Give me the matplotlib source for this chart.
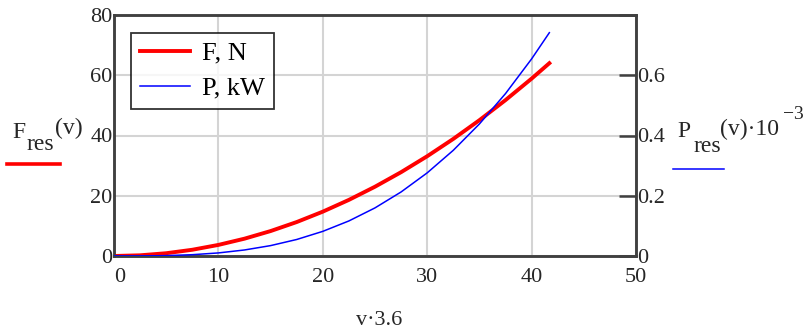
import matplotlib
matplotlib.use("Agg")
import matplotlib.pyplot as plt
from matplotlib.lines import Line2D

plt.rcParams['font.family'] = ['Liberation Serif', 'DejaVu Serif']

# data
speed_kmh = [0, 2.5, 5, 7.5, 10, 12.5, 15, 17.5, 20, 22.5, 25, 27.5, 30, 32.5, 35, 37.5, 40, 41.7]
force_N = [0, 0.23, 0.92, 2.07, 3.68, 5.75, 8.28, 11.27, 14.72, 18.63, 23.0, 27.83, 33.12,
           38.87, 45.08, 51.75, 58.88, 64.0]
power_kW = [0, 0.0002, 0.0013, 0.0043, 0.0102, 0.020, 0.0345, 0.0548, 0.0818, 0.1164, 0.1597,
            0.2126, 0.276, 0.3509, 0.4383, 0.5391, 0.6542, 0.7413]
x_ticks = [0, 10, 20, 30, 40, 50]
left_ticks = [0, 20, 40, 60, 80]
right_ticks = [0, 0.2, 0.4, 0.6]

W, H = 807, 333
fig = plt.figure(figsize=(W / 100, H / 100), dpi=100)
L, R, T, B = 114, 636, 15, 256
ax = fig.add_axes([L / W, (H - B) / H, (R - L) / W, (B - T) / H])
ax2 = ax.twinx()

spine_c = '#404040'
grid_c = '#d4d4d4'
txt_c = '#262626'
fs = 16

ax.set_xlim(0, 50)
ax.set_ylim(0, 80)
ax2.set_ylim(0, 0.8)
ax.set_xticks(x_ticks)
ax.set_yticks(left_ticks)
ax2.set_yticks(right_ticks + [0.8])
ax2.set_yticklabels(['0', '0.2', '0.4', '0.6', ''])
ax.set_xticklabels([str(t) for t in x_ticks])
ax.set_yticklabels([str(t) for t in left_ticks])
ax.get_xticklabels()[0].set_horizontalalignment('left')

ax.grid(True, color=grid_c, linewidth=1.5, zorder=0)
ax.set_axisbelow(True)
for a in (ax, ax2):
    for s in a.spines.values():
        s.set_color(spine_c)
        s.set_linewidth(1.8)

ax.tick_params(axis='x', length=0, pad=9, labelsize=fs, colors=txt_c)
ax.tick_params(axis='y', length=0, pad=1, labelsize=fs, colors=txt_c)
ax2.tick_params(axis='y', direction='in', length=12, width=1.8, color=spine_c, pad=1,
                labelsize=fs, labelcolor=txt_c)

l1, = ax.plot(speed_kmh, force_N, color='#ff0000', linewidth=2.8, zorder=3, label='F, N')
l2, = ax2.plot(speed_kmh, power_kW, color='#0000ff', linewidth=1.1, zorder=3, label='P, kW')

leg = ax.legend(handles=[l1, l2], loc='upper left', bbox_to_anchor=(17 / (R - L), 1 - 18 / (B - T)),
                frameon=True, fancybox=False, edgecolor='#000000', fontsize=19,
                handlelength=1.9, handletextpad=0.45, borderpad=0.35, labelspacing=0.45,
                borderaxespad=0, handleheight=0.6)
leg.get_frame().set_linewidth(1.3)
leg.set_zorder(5)


def px(x, y):
    return x / W, 1 - y / H


lf = 17
# left axis label F_res(v)
fig.text(*px(12, 138), 'F', fontsize=lf, ha='left', va='baseline', color=txt_c)
fig.text(*px(27, 150), 'res', fontsize=lf, ha='left', va='baseline', color=txt_c)
fig.text(*px(55, 134), '(v)', fontsize=lf, ha='left', va='baseline', color=txt_c)
fig.add_artist(Line2D([7 / W, 60 / W], [1 - 164 / H, 1 - 164 / H], color='#ff0000', linewidth=2.6))

# right axis label P_res(v)·10^-3
fig.text(*px(677, 137), 'P', fontsize=lf, ha='left', va='baseline', color=txt_c)
fig.text(*px(693, 152), 'res', fontsize=lf, ha='left', va='baseline', color=txt_c)
fig.text(*px(720, 135), '(v)\u00b710', fontsize=lf, ha='left', va='baseline', color=txt_c)
fig.text(*px(783, 119), '\u22123', fontsize=14, ha='left', va='baseline', color=txt_c)
fig.add_artist(Line2D([673 / W, 724 / W], [1 - 169 / H, 1 - 169 / H], color='#0000ff', linewidth=1.1))

# x label
fig.text(*px(379, 325), 'v\u00b73.6', fontsize=16, ha='center', va='baseline', color=txt_c)

fig.savefig('out.png', dpi=100)
